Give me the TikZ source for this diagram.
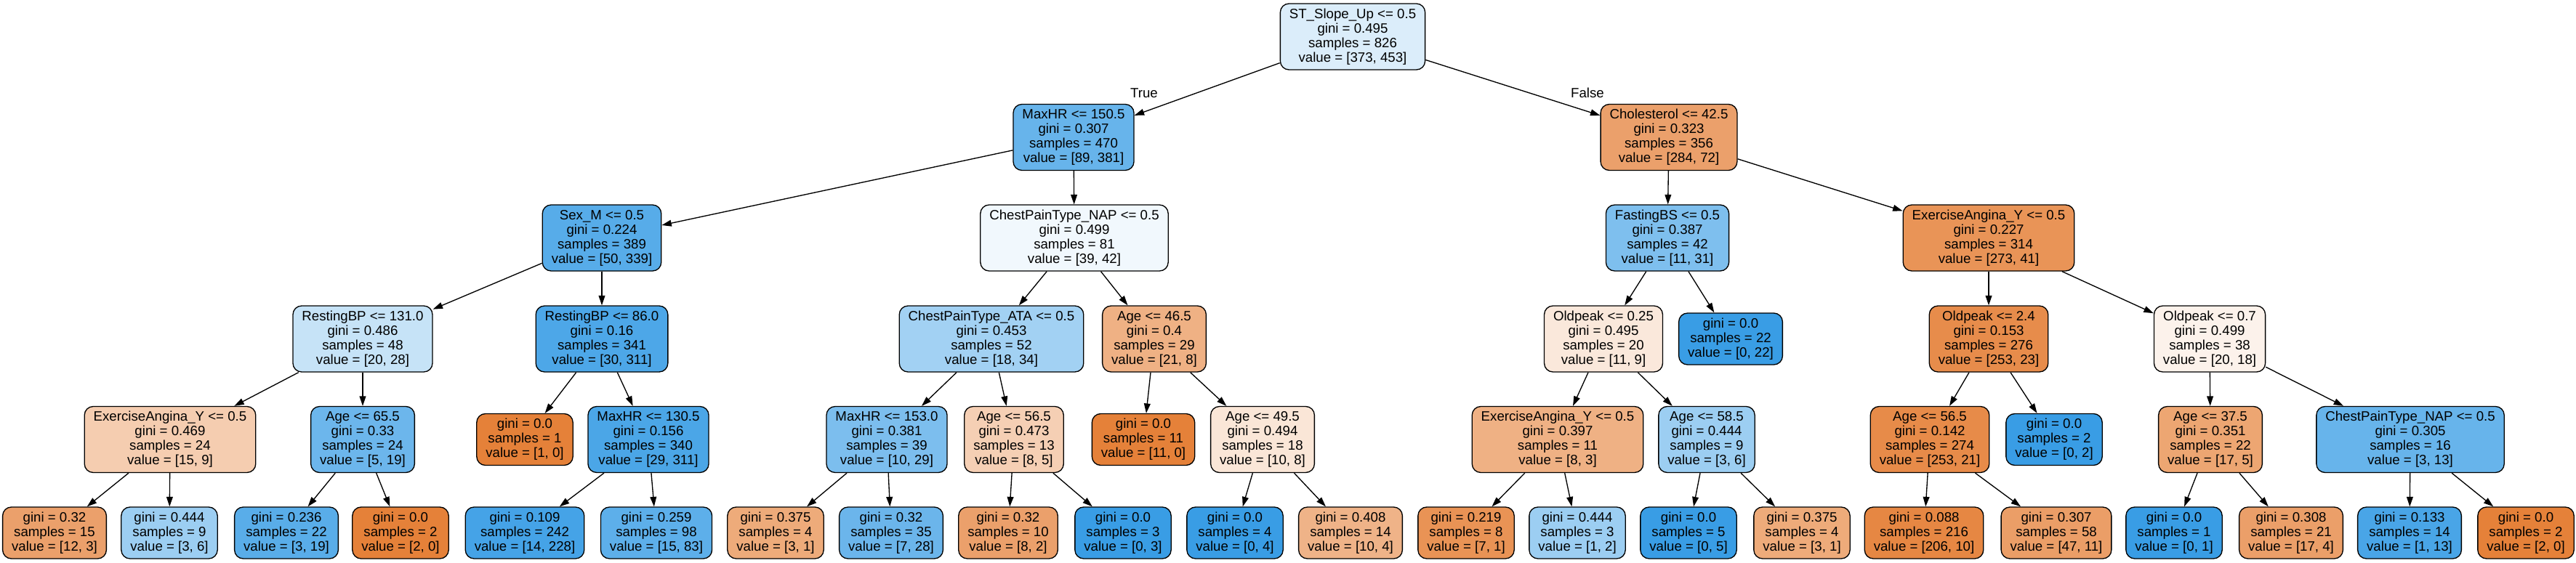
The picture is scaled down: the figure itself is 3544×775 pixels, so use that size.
\documentclass[tikz,border=0pt]{standalone}
\usepackage{fontspec}
\setmainfont{Liberation Sans}
\usetikzlibrary{arrows.meta}
\definecolor{orng}{RGB}{229,129,57}
\definecolor{blu}{RGB}{57,157,229}
\begin{document}
\begin{tikzpicture}[x=0.5pt,y=-0.5pt,
  tn/.style={draw=black, line width=0.67pt, rounded corners=6pt, align=center,
    font=\fontsize{9.33}{10}\selectfont, inner xsep=6.25pt, inner ysep=1pt, minimum height=45.5pt},
  lf/.style={tn, minimum height=35.5pt},
  edge/.style={line width=0.67pt, -{Triangle[length=6.7pt,width=4.4pt]}},
  lbl/.style={font=\fontsize{9.33}{10}\selectfont, inner sep=0pt}]
\useasboundingbox (0,0) rectangle (3544,775);
% level 0
\node[tn, fill=blu!18] (r) at (1861,50.5) {ST\_Slope\_Up <= 0.5\\gini = 0.495\\samples = 826\\value = [373, 453]};
% level 1
\node[tn, fill=blu!77] (a) at (1477,189) {MaxHR <= 150.5\\gini = 0.307\\samples = 470\\value = [89, 381]};
\node[tn, fill=orng!75] (b) at (2296,189) {Cholesterol <= 42.5\\gini = 0.323\\samples = 356\\value = [284, 72]};
% level 2
\node[tn, fill=blu!85] (aa) at (828,327.5) {Sex\_M <= 0.5\\gini = 0.224\\samples = 389\\value = [50, 339]};
\node[tn, fill=blu!7] (ab) at (1478,327.5) {ChestPainType\_NAP <= 0.5\\gini = 0.499\\samples = 81\\value = [39, 42]};
\node[tn, fill=blu!65] (ba) at (2294,327.5) {FastingBS <= 0.5\\gini = 0.387\\samples = 42\\value = [11, 31]};
\node[tn, fill=orng!85] (bb) at (2736,327.5) {ExerciseAngina\_Y <= 0.5\\gini = 0.227\\samples = 314\\value = [273, 41]};
% level 3
\node[tn, fill=blu!29] (aaa) at (499,466.5) {RestingBP <= 131.0\\gini = 0.486\\samples = 48\\value = [20, 28]};
\node[tn, fill=blu!90] (aab) at (828,466.5) {RestingBP <= 86.0\\gini = 0.16\\samples = 341\\value = [30, 311]};
\node[tn, fill=blu!47] (aba) at (1364,466.5) {ChestPainType\_ATA <= 0.5\\gini = 0.453\\samples = 52\\value = [18, 34]};
\node[tn, fill=orng!62] (abb) at (1588,466.5) {Age <= 46.5\\gini = 0.4\\samples = 29\\value = [21, 8]};
\node[tn, fill=orng!18] (baa) at (2206,466.5) {Oldpeak <= 0.25\\gini = 0.495\\samples = 20\\value = [11, 9]};
\node[lf, fill=blu] (bab) at (2381,466.5) {gini = 0.0\\samples = 22\\value = [0, 22]};
\node[tn, fill=orng!91] (bba) at (2736,466.5) {Oldpeak <= 2.4\\gini = 0.153\\samples = 276\\value = [253, 23]};
\node[tn, fill=orng!10] (bbb) at (3040,466.5) {Oldpeak <= 0.7\\gini = 0.499\\samples = 38\\value = [20, 18]};
% level 4
\node[tn, fill=orng!40] (aaaa) at (234,605) {ExerciseAngina\_Y <= 0.5\\gini = 0.469\\samples = 24\\value = [15, 9]};
\node[tn, fill=blu!74] (aaab) at (499,605) {Age <= 65.5\\gini = 0.33\\samples = 24\\value = [5, 19]};
\node[lf, fill=orng] (aaba) at (722,605) {gini = 0.0\\samples = 1\\value = [1, 0]};
\node[tn, fill=blu!91] (aabb) at (892,605) {MaxHR <= 130.5\\gini = 0.156\\samples = 340\\value = [29, 311]};
\node[tn, fill=blu!66] (abaa) at (1220,605) {MaxHR <= 153.0\\gini = 0.381\\samples = 39\\value = [10, 29]};
\node[tn, fill=orng!38] (abab) at (1395,605) {Age <= 56.5\\gini = 0.473\\samples = 13\\value = [8, 5]};
\node[lf, fill=orng] (abba) at (1573,605) {gini = 0.0\\samples = 11\\value = [11, 0]};
\node[tn, fill=orng!20] (abbb) at (1737,605) {Age <= 49.5\\gini = 0.494\\samples = 18\\value = [10, 8]};
\node[tn, fill=orng!62] (baaa) at (2143,605) {ExerciseAngina\_Y <= 0.5\\gini = 0.397\\samples = 11\\value = [8, 3]};
\node[tn, fill=blu!50] (baab) at (2348,605) {Age <= 58.5\\gini = 0.444\\samples = 9\\value = [3, 6]};
\node[tn, fill=orng!92] (bbaa) at (2655,605) {Age <= 56.5\\gini = 0.142\\samples = 274\\value = [253, 21]};
\node[lf, fill=blu] (bbab) at (2826,605) {gini = 0.0\\samples = 2\\value = [0, 2]};
\node[tn, fill=orng!71] (bbba) at (3041,605) {Age <= 37.5\\gini = 0.351\\samples = 22\\value = [17, 5]};
\node[tn, fill=blu!77] (bbbb) at (3316,605) {ChestPainType\_NAP <= 0.5\\gini = 0.305\\samples = 16\\value = [3, 13]};
% level 5
\node[lf, fill=orng!75] (l1) at (75,733.5) {gini = 0.32\\samples = 15\\value = [12, 3]};
\node[lf, fill=blu!50] (l2) at (233,733.5) {gini = 0.444\\samples = 9\\value = [3, 6]};
\node[lf, fill=blu!84] (l3) at (394,733.5) {gini = 0.236\\samples = 22\\value = [3, 19]};
\node[lf, fill=orng] (l4) at (551,733.5) {gini = 0.0\\samples = 2\\value = [2, 0]};
\node[lf, fill=blu!94] (l5) at (722,733.5) {gini = 0.109\\samples = 242\\value = [14, 228]};
\node[lf, fill=blu!82] (l6) at (903,733.5) {gini = 0.259\\samples = 98\\value = [15, 83]};
\node[lf, fill=orng!67] (l7) at (1067,733.5) {gini = 0.375\\samples = 4\\value = [3, 1]};
\node[lf, fill=blu!75] (l8) at (1226,733.5) {gini = 0.32\\samples = 35\\value = [7, 28]};
\node[lf, fill=orng!75] (l9) at (1387,733.5) {gini = 0.32\\samples = 10\\value = [8, 2]};
\node[lf, fill=blu] (l10) at (1545,733.5) {gini = 0.0\\samples = 3\\value = [0, 3]};
\node[lf, fill=blu] (l11) at (1699,733.5) {gini = 0.0\\samples = 4\\value = [0, 4]};
\node[lf, fill=orng!60] (l12) at (1858,733.5) {gini = 0.408\\samples = 14\\value = [10, 4]};
\node[lf, fill=orng!86] (l13) at (2017,733.5) {gini = 0.219\\samples = 8\\value = [7, 1]};
\node[lf, fill=blu!50] (l14) at (2170,733.5) {gini = 0.444\\samples = 3\\value = [1, 2]};
\node[lf, fill=blu] (l15) at (2323,733.5) {gini = 0.0\\samples = 5\\value = [0, 5]};
\node[lf, fill=orng!67] (l16) at (2479,733.5) {gini = 0.375\\samples = 4\\value = [3, 1]};
\node[lf, fill=orng!95] (l17) at (2647,733.5) {gini = 0.088\\samples = 216\\value = [206, 10]};
\node[lf, fill=orng!77] (l18) at (2829,733.5) {gini = 0.307\\samples = 58\\value = [47, 11]};
\node[lf, fill=blu] (l19) at (2991,733.5) {gini = 0.0\\samples = 1\\value = [0, 1]};
\node[lf, fill=orng!76] (l20) at (3152,733.5) {gini = 0.308\\samples = 21\\value = [17, 4]};
\node[lf, fill=blu!92] (l21) at (3315,733.5) {gini = 0.133\\samples = 14\\value = [1, 13]};
\node[lf, fill=orng] (l22) at (3475,733.5) {gini = 0.0\\samples = 2\\value = [2, 0]};
% edge labels
\node[lbl] (tT) at (1574,128) {True};
\node[lbl] (tF) at (2184,128) {False};
% edges
\draw[edge] (r) -- (a);
\draw[edge] (r) -- (b);
\draw[edge] (a) -- (aa);
\draw[edge] (a) -- (ab);
\draw[edge] (b) -- (ba);
\draw[edge] (b) -- (bb);
\draw[edge] (aa) -- (aaa);
\draw[edge] (aa) -- (aab);
\draw[edge] (ab) -- (aba);
\draw[edge] (ab) -- (abb);
\draw[edge] (ba) -- (baa);
\draw[edge] (ba) -- (bab);
\draw[edge] (bb) -- (bba);
\draw[edge] (bb) -- (bbb);
\draw[edge] (aaa) -- (aaaa);
\draw[edge] (aaa) -- (aaab);
\draw[edge] (aab) -- (aaba);
\draw[edge] (aab) -- (aabb);
\draw[edge] (aba) -- (abaa);
\draw[edge] (aba) -- (abab);
\draw[edge] (abb) -- (abba);
\draw[edge] (abb) -- (abbb);
\draw[edge] (baa) -- (baaa);
\draw[edge] (baa) -- (baab);
\draw[edge] (bba) -- (bbaa);
\draw[edge] (bba) -- (bbab);
\draw[edge] (bbb) -- (bbba);
\draw[edge] (bbb) -- (bbbb);
\draw[edge] (aaaa) -- (l1);
\draw[edge] (aaaa) -- (l2);
\draw[edge] (aaab) -- (l3);
\draw[edge] (aaab) -- (l4);
\draw[edge] (aabb) -- (l5);
\draw[edge] (aabb) -- (l6);
\draw[edge] (abaa) -- (l7);
\draw[edge] (abaa) -- (l8);
\draw[edge] (abab) -- (l9);
\draw[edge] (abab) -- (l10);
\draw[edge] (abbb) -- (l11);
\draw[edge] (abbb) -- (l12);
\draw[edge] (baaa) -- (l13);
\draw[edge] (baaa) -- (l14);
\draw[edge] (baab) -- (l15);
\draw[edge] (baab) -- (l16);
\draw[edge] (bbaa) -- (l17);
\draw[edge] (bbaa) -- (l18);
\draw[edge] (bbba) -- (l19);
\draw[edge] (bbba) -- (l20);
\draw[edge] (bbbb) -- (l21);
\draw[edge] (bbbb) -- (l22);
\end{tikzpicture}
\end{document}
